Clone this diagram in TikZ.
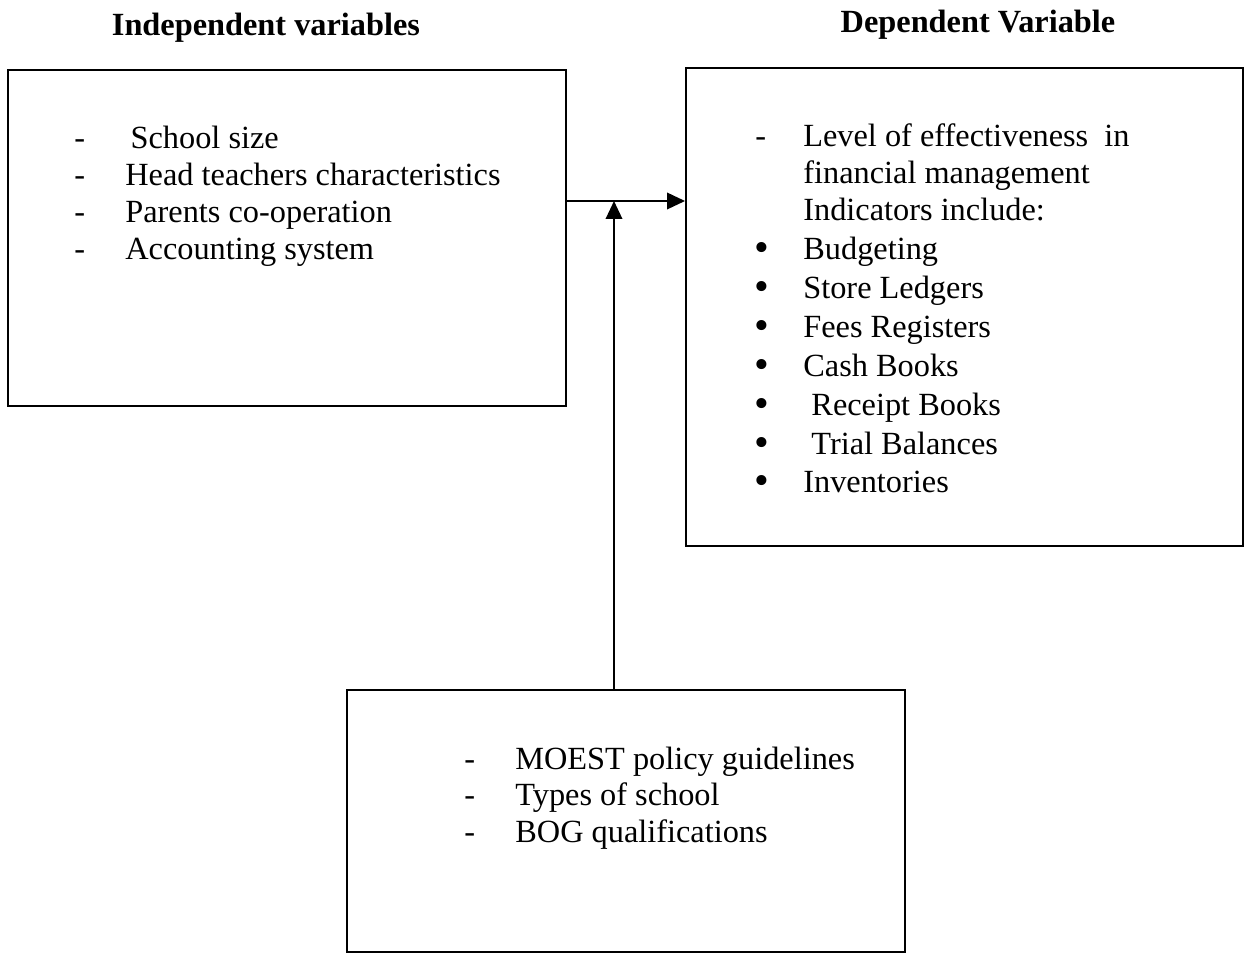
\documentclass[tikz,border=0pt]{standalone}
\usepackage{fontspec}
\setmainfont{Liberation Serif}
\usetikzlibrary{arrows.meta}

\tikzset{
  box/.style={draw, line width=1.1pt, inner sep=0pt},
  item/.style={anchor=base west, inner sep=0pt, font=\fontsize{18.4}{21}\selectfont},
  heading/.style={anchor=base, inner sep=0pt, font=\fontsize{18.4}{21}\selectfont\bfseries},
  conn/.style={line width=1.1pt, -{Triangle[length=3.6mm, width=3.3mm]}}
}

\begin{document}
\begin{tikzpicture}[x=0.2mm, y=-0.2mm]
\useasboundingbox (0,0) rectangle (1250,954);

% Headings
\node[heading] (indtitle) at (266,36) {Independent variables};
\node[heading] (deptitle) at (978,33) {Dependent Variable};

% Boxes
\node[box, minimum width=111.6mm, minimum height=67.2mm] (indep) at (287,238) {};
\node[box, minimum width=111.4mm, minimum height=95.6mm] (dep) at (964.5,307) {};
\node[box, minimum width=111.6mm, minimum height=52.4mm] (moder) at (626,821) {};

% Independent variables
\foreach \txt [count=\i] in {\hspace{3pt}School size, Head teachers characteristics, Parents co-operation, Accounting system} {
  \node[item] (ivd\i) at (74,149+37*\i-37) {-};
  \node[item] (iv\i) at (125,149+37*\i-37) {\txt};
}

% Dependent variable
\node[item] (dvd) at (755,147) {-};
\foreach \txt [count=\i] in {Level of effectiveness\ \ in, financial management, Indicators include:}
  \node[item] (dv\i) at (803,147+37*\i-37) {\txt};
\foreach \txt [count=\i] in {Budgeting, Store Ledgers, Fees Registers, Cash Books, \ Receipt Books, \ Trial Balances, Inventories} {
  \node[item, font=\fontsize{24}{24}\selectfont] (ind\i) at (754,262+38.8*\i-38.8) {\textbullet};
  \node[item] (in\i) at (803,260+38.8*\i-38.8) {\txt};
}

% Intervening variables
\foreach \txt [count=\i] in {MOEST policy guidelines, Types of school, BOG qualifications} {
  \node[item] (mvd\i) at (464,769+36.5*\i-36.5) {-};
  \node[item] (mv\i) at (515,769+36.5*\i-36.5) {\txt};
}

% Arrows
\coordinate (meet) at (614,201);
\draw[conn] (indep.east |- meet) -- (dep.west |- meet);
\draw[conn] (moder.north -| meet) -- (meet);
\end{tikzpicture}
\end{document}
